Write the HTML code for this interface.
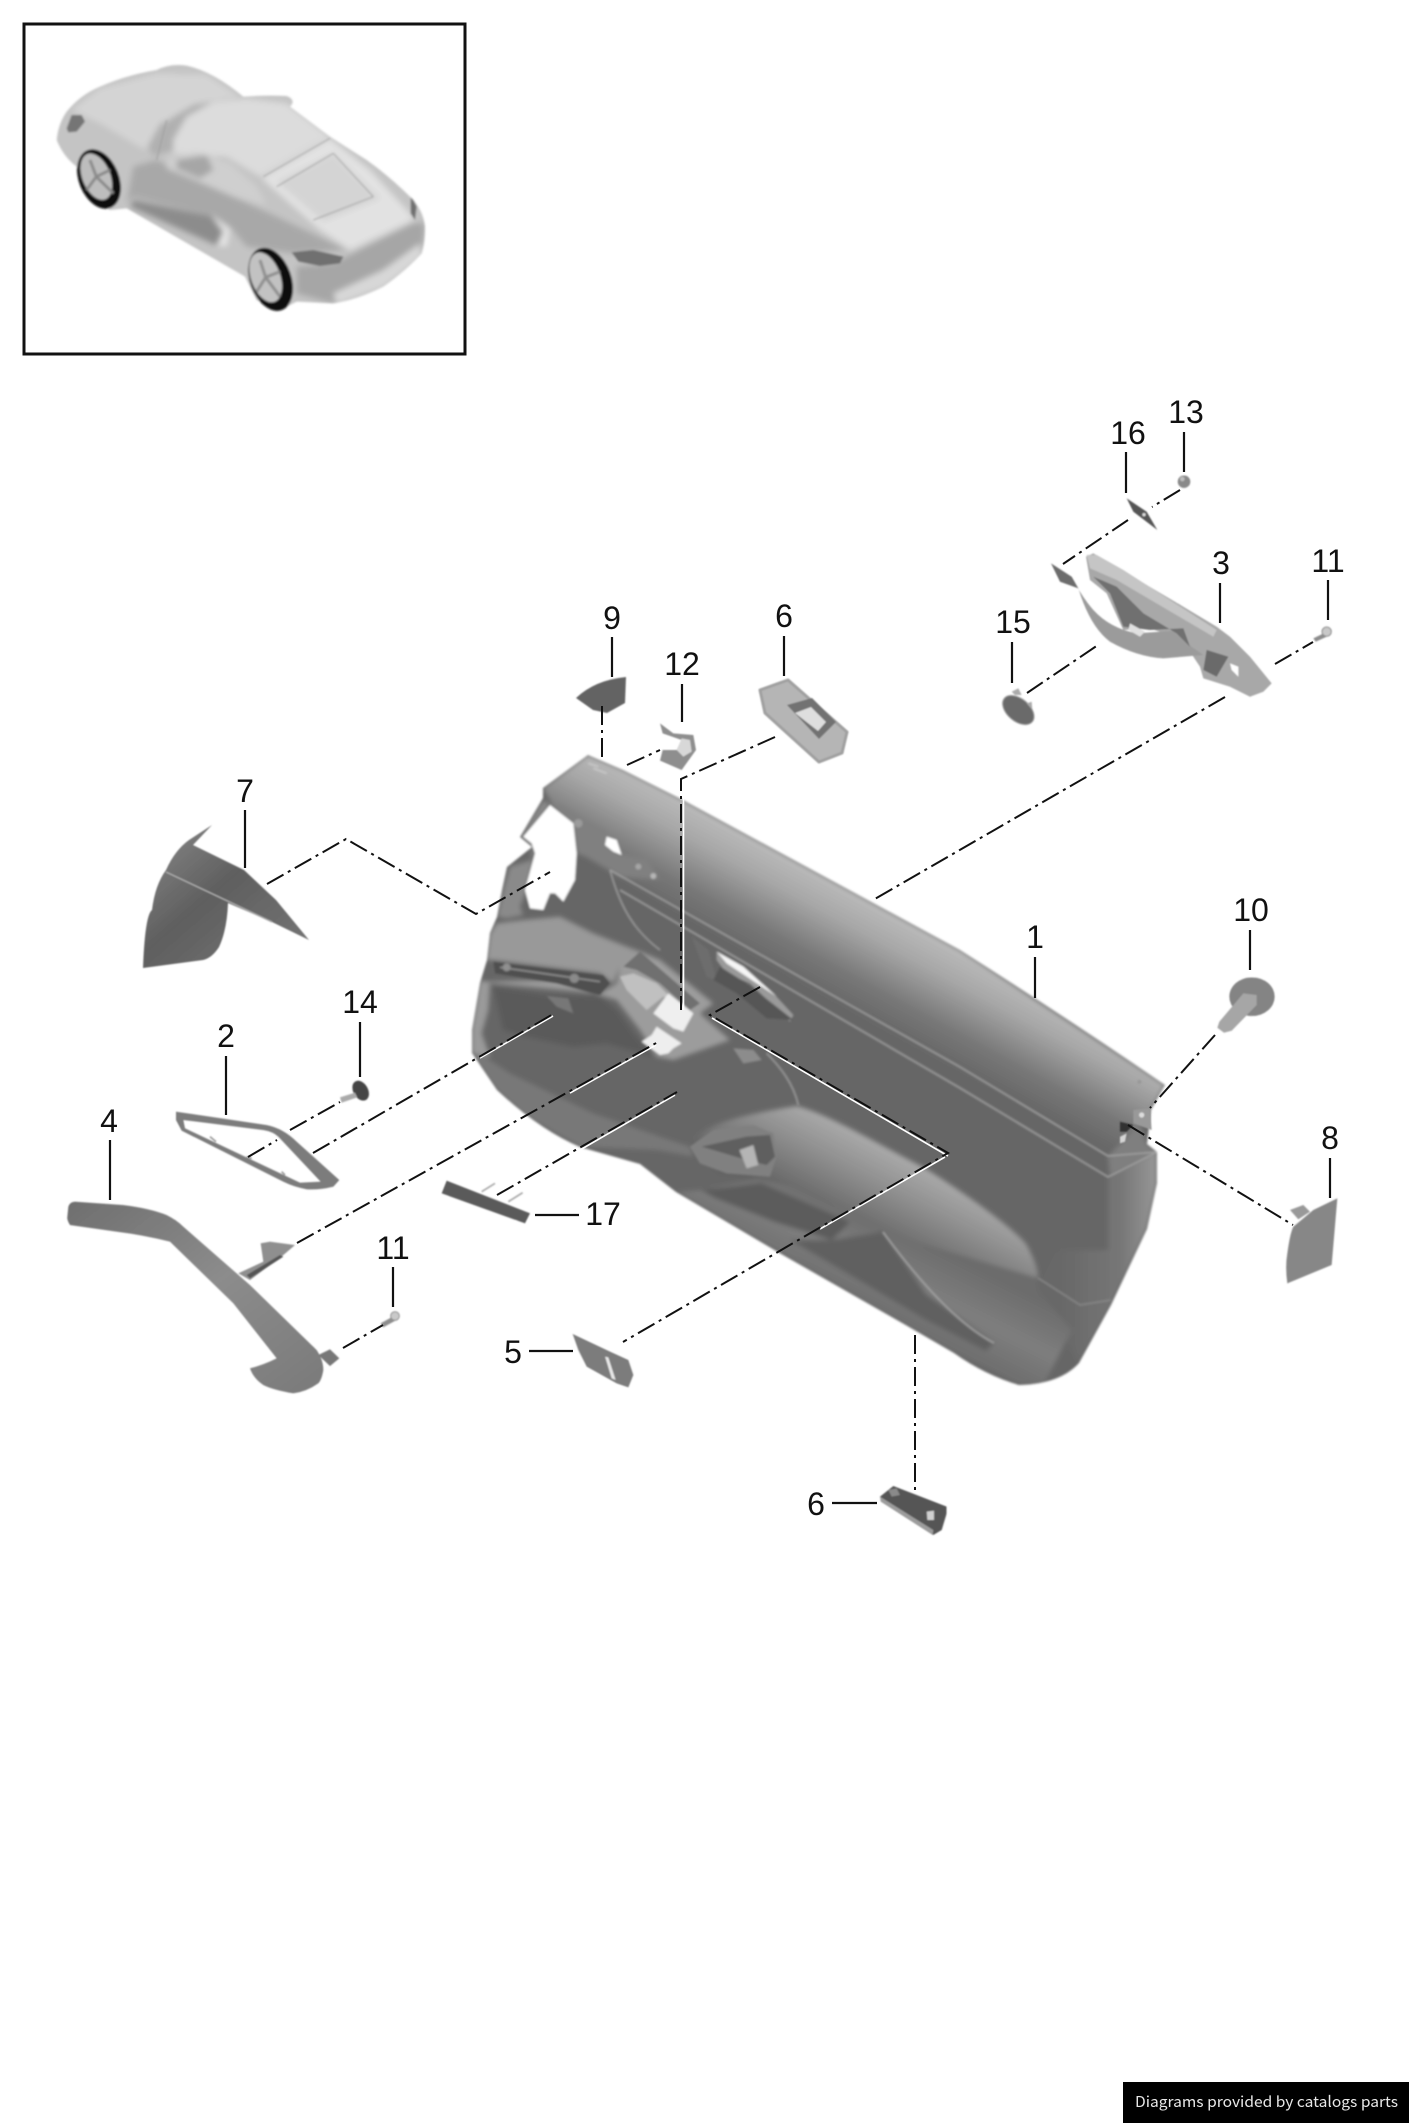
<!DOCTYPE html>
<html><head><meta charset="utf-8">
<style>
html,body{margin:0;padding:0;background:#fff;width:1409px;height:2123px;overflow:hidden}
svg{display:block}
.n{font:32px "Liberation Sans",sans-serif;fill:#111;text-anchor:middle}
.l{stroke:#111;stroke-width:2.2;fill:none}
.c{stroke:#111;stroke-width:2;fill:none;stroke-dasharray:19 5 3 5}
.h{stroke:#fff;stroke-width:1.6;fill:none}
</style></head><body>
<svg width="1409" height="2123" viewBox="0 0 1409 2123" xmlns="http://www.w3.org/2000/svg">
<defs>
<filter id="b1" x="-5%" y="-5%" width="110%" height="110%"><feGaussianBlur stdDeviation="0.8"/></filter>
<filter id="bd" x="-5%" y="-5%" width="110%" height="110%"><feGaussianBlur stdDeviation="2"/></filter>
<filter id="bs" x="-5%" y="-5%" width="110%" height="110%"><feGaussianBlur stdDeviation="1"/></filter>
<filter id="c1" x="-5%" y="-5%" width="110%" height="110%"><feGaussianBlur stdDeviation="3"/></filter>
<filter id="c2" x="-5%" y="-5%" width="110%" height="110%"><feGaussianBlur stdDeviation="9"/></filter>
<clipPath id="dclip"><path d="M588 755 623 770 683 800 960 950Q1070 1020 1165 1085L1151 1110 1147 1144 1157 1152 1157 1183 1147 1229 1111 1305 1079 1363Q1060 1384 1019 1385Q985 1375 954 1353L904 1324 783 1255 676 1192 640 1164 580 1147Q540 1130 497 1090L472 1053 472 1030 480 983 487 960 490 933 497 917 502 890 507 867 532 847 520 837 543 798 543 788Z"/></clipPath>
<clipPath id="cclip"><path d="M170 420Q175 370 200 335Q240 285 300 260Q380 225 470 210Q510 190 560 197Q640 215 730 290Q800 285 860 288Q890 300 870 320Q930 365 990 410Q1060 455 1100 480Q1170 530 1230 590Q1270 630 1275 680Q1275 730 1265 760Q1220 810 1150 860Q1070 900 1000 910L890 905 840 930 770 900 735 830 380 625 330 630 260 590 230 500Q190 470 170 420Z"/></clipPath>
<linearGradient id="band" gradientUnits="userSpaceOnUse" x1="900" y1="920" x2="850" y2="1012">
<stop offset="0" stop-color="#b9b9b9"/><stop offset=".28" stop-color="#a6a6a6"/><stop offset=".7" stop-color="#777"/><stop offset="1" stop-color="#666"/></linearGradient>
<linearGradient id="arm" gradientUnits="userSpaceOnUse" x1="880" y1="1130" x2="830" y2="1225">
<stop offset="0" stop-color="#b4b4b4"/><stop offset=".45" stop-color="#8f8f8f"/><stop offset="1" stop-color="#5d5d5d"/></linearGradient>
<linearGradient id="low" gradientUnits="userSpaceOnUse" x1="900" y1="1230" x2="860" y2="1310">
<stop offset="0" stop-color="#6c6c6c"/><stop offset=".5" stop-color="#7e7e7e"/><stop offset="1" stop-color="#6b6b6b"/></linearGradient>
<linearGradient id="end" gradientUnits="userSpaceOnUse" x1="1060" y1="1200" x2="1160" y2="1200">
<stop offset="0" stop-color="#686868"/><stop offset=".6" stop-color="#767676"/><stop offset="1" stop-color="#9a9a9a"/></linearGradient>
<linearGradient id="p4" x1="0" y1="0" x2="1" y2="1">
<stop offset="0" stop-color="#6f6f6f"/><stop offset=".5" stop-color="#8c8c8c"/><stop offset="1" stop-color="#7a7a7a"/></linearGradient>
<linearGradient id="p7" x1="0" y1="0" x2="1" y2="1">
<stop offset="0" stop-color="#8a8a8a"/><stop offset=".45" stop-color="#5f5f5f"/><stop offset="1" stop-color="#777"/></linearGradient>
</defs>

<rect width="1409" height="2123" fill="#fff"/>
<rect x="24" y="24" width="441" height="330" fill="#fff" stroke="#111" stroke-width="3"/>

<!-- car -->
<g transform="scale(.33333)">
<g filter="url(#c1)">
<g clip-path="url(#cclip)">
<rect x="150" y="180" width="1150" height="760" fill="#c4c4c4"/>
<g filter="url(#c2)">
<path fill="#d4d4d4" d="M215 330 300 265 470 220 620 225 720 290 590 310 480 370 435 450 300 370Z"/>
<path fill="#dcdcdc" d="M445 440 500 360 600 310 740 295 860 310 990 410 780 530 680 470 520 460 460 470Z"/>
<path fill="#b0b0b0" d="M445 440 480 375 580 315 640 305 560 350 520 420 520 455 460 470Z"/>
<path fill="#e2e2e2" d="M785 535 990 415 1110 510 1230 640 1240 660 1050 750 960 690Z"/>
<path fill="#d4d4d4" d="M830 545 1000 460 1140 595 970 665Z"/>
<path fill="#a8a8a8" d="M400 500 470 480 700 590 830 650 1040 750 880 760 740 740 690 680 640 650 400 590 380 610Z"/>
<path fill="#8c8c8c" d="M400 600 640 650 690 700 670 745 390 620Z"/>
<path fill="#cfcfcf" d="M500 475 590 455 690 490 770 560 800 615 700 590 620 555 500 505Z"/>
<path fill="#a6a6a6" d="M530 480 620 465 640 510 600 535 530 505Z"/>
<path fill="#e6e6e6" d="M630 640 690 690 680 740 650 740 670 695Z"/>
<path fill="#a6a6a6" d="M890 800 1000 790 1240 670 1275 670 1265 760 1150 860 1000 910 890 880Z"/>
<path fill="#d8d8d8" d="M1000 880 1150 810 1260 730 1265 770 1150 860 1010 910Z"/>
</g>
<path fill="#6f6f6f" d="M875 757 940 750 1030 770 1020 790 960 798 895 785Z"/>
<path fill="#6f6f6f" d="M1232 585 1250 620 1245 660 1232 640Z"/>
<path fill="#757575" d="M200 385 215 345 245 345 255 365 230 395 205 397Z"/>
</g>
<path d="M790 530 990 415M830 560 1000 460M940 660 1120 590M1000 460 1120 590M470 480 500 360" stroke="#9e9e9e" stroke-width="3" fill="none"/>
<ellipse cx="297" cy="537" rx="60" ry="93" transform="rotate(-22 297 537)" fill="#080808"/>
<ellipse cx="289" cy="530" rx="42" ry="73" transform="rotate(-22 289 530)" fill="#bdbdbd"/>
<path d="M289 530 270 480M289 530 330 510M289 530 340 580M289 530 260 570" stroke="#8a8a8a" stroke-width="9" fill="none"/>
<ellipse cx="812" cy="838" rx="62" ry="98" transform="rotate(-20 812 838)" fill="#080808"/>
<ellipse cx="797" cy="832" rx="44" ry="78" transform="rotate(-20 797 832)" fill="#c2c2c2"/>
<path d="M797 832 780 780M797 832 840 815M797 832 840 890M797 832 770 875" stroke="#8e8e8e" stroke-width="9" fill="none"/>
</g>
</g>

<!-- door -->
<g filter="url(#bs)">
<g clip-path="url(#dclip)">
<rect x="460" y="740" width="720" height="660" fill="#666"/>
<g filter="url(#bd)">
<path fill="url(#band)" d="M588 755 623 770 683 800 960 950 1165 1085 1151 1110 1140 1125 1108 1158 583 857 550 800 543 788Z"/>
<path fill="#7f7f7f" d="M1108 1156 1140 1125 1147 1144 1157 1152 1110 1177Z"/>
<path fill="url(#end)" d="M1108 1177 1157 1152 1157 1183 1147 1229 1111 1305 1079 1363 1040 1290 1060 1250 1108 1250Z"/>
<path fill="url(#arm)" d="M690 1144C700 1125 740 1115 797 1106C830 1115 880 1145 926 1169C960 1190 1010 1225 1026 1244C1035 1260 1038 1270 1038 1278L1000 1268 883 1232 790 1186 758 1179 720 1172Z"/>
<path fill="url(#low)" d="M701 1190 758 1179 790 1186 883 1232 1038 1278 1040 1292 1072 1330 1044 1384 1019 1385 954 1353 904 1324 783 1255 676 1192Z"/>
<path fill="#5b5b5b" d="M701 1190 761 1183 800 1200 850 1222 832 1240 775 1222 715 1198Z"/>
<path fill="#606060" d="M883 1232 926 1294 994 1343 986 1351 926 1320 850 1275 790 1240 832 1240Z"/>
<g transform="translate(460 720) scale(.33333)">
<path fill="#808080" d="M270 255 340 310 350 400 380 410 480 470 600 480 560 420 470 400 440 330 380 300 300 250Z"/>
<path fill="#8a8a8a" d="M250 240 180 350 215 385 215 420 150 440 130 510 112 590 140 595 190 585 180 560 200 510 225 400 215 370 190 350 270 255Z"/>
<path fill="#999" d="M90 640 110 610 190 600 300 590 400 640 500 680 540 695 480 740 460 790 420 760 100 720 80 720Z"/>
<path fill="#9c9c9c" d="M60 785 300 780 420 825 470 840 540 930 590 1010 640 1020 810 960 720 880 760 850 600 720 540 695 480 740 470 790 420 820 100 790Z"/>
<path fill="#5a5a5a" d="M100 800 260 825 420 830 470 870 520 940 580 1010 440 970 340 980 200 950 130 930Z"/>
<path fill="#787878" d="M60 1000 150 1060 400 1180 600 1250 690 1280 700 1310 590 1290 360 1280 200 1190 110 1110 40 1010Z"/>
<path fill="#9a9a9a" d="M60 780 35 930 35 1000 90 1010 65 940 85 870 90 790Z"/>
</g>
</g>
<g transform="translate(460 720) scale(.33333)">
<path fill="#4f4f4f" d="M100 725 430 765 450 790 420 825 290 790 105 760Z"/>
<path stroke="#aaa" stroke-width="3" fill="none" d="M120 742 420 785"/>
<circle cx="140" cy="742" r="12" fill="#909090"/><circle cx="343" cy="775" r="14" fill="#8a8a8a"/>
<path fill="#777" d="M260 828 325 835 340 880 290 860Z"/>
<path fill="#6f6f6f" d="M490 740 540 695 720 850 690 870 600 790 530 750Z"/>
<path fill="#c0c0c0" d="M520 760 590 790 660 860 610 830 560 870 500 810 480 770Z"/>
<path fill="#efefef" d="M580 880 625 820 700 880 670 935 640 925Z"/>
<path fill="#eee" d="M590 920 665 970 640 985 625 1000 600 1005 545 965 575 945Z"/>
<path fill="#6d6d6d" d="M695 650 745 690 770 780 870 790 850 810 790 790 740 770Z"/>
<path fill="#9a9a9a" d="M770 720 800 760 870 790 990 905 1000 885 940 820 850 740 770 695Z"/>
<path fill="#f6f6f6" d="M770 695 850 740 950 830 860 770 800 730Z"/>
<path fill="#575757" d="M780 740 860 790 1000 900 920 895 830 820 760 780Z"/>
<path fill="#808080" d="M690 1280 760 1230 880 1215 940 1240 950 1310 930 1370 800 1360 720 1330Z"/>
<path fill="#5e5e5e" d="M725 1280 860 1250 930 1245 945 1310 920 1335 860 1320 760 1290Z"/>
<path fill="#b5b5b5" d="M838 1290 880 1275 895 1335 860 1345Z"/>
<path fill="#8c8c8c" d="M820 985 880 990 905 1020 850 1030Z"/>
<path stroke="#a0a0a0" stroke-width="4" fill="none" d="M450 450C480 560 520 630 600 690M920 1000C960 1040 1000 1090 1015 1155"/>
<path stroke="#cfcfcf" stroke-width="4" fill="none" d="M385 130 415 140M400 145 440 160"/>
<circle cx="355" cy="310" r="13" fill="#9a9a9a"/><circle cx="535" cy="440" r="9" fill="#a5a5a5"/><circle cx="580" cy="468" r="9" fill="#b5b5b5"/>
</g>
<path d="M883 1232C905 1262 950 1320 994 1343" stroke="#a5a5a5" stroke-width="1.5" fill="none"/>
<path d="M1038 1278 1080 1305 1111 1300" stroke="#888" stroke-width="1.5" fill="none"/>
<path d="M610 870 960 1067 1108 1156 1157 1152" stroke="#a2a2a2" stroke-width="1.4" fill="none"/>
<path d="M620 890 960 1088 1108 1177 1157 1152" stroke="#a2a2a2" stroke-width="1.4" fill="none"/>
</g>
<g transform="translate(460 720) scale(.33333)">
<path fill="#fff" d="M270 255 340 310 350 400 345 480 310 545 285 520 270 520 250 570 210 565 195 510 225 400 215 370 190 350Z"/>
<path fill="#fff" d="M440 350 470 360 485 405 460 395 435 375Z"/>
</g>
</g>

<g filter="url(#b1)">
<!-- part 9, 12, 6 top -->
<path fill="#636363" d="M576 698Q595 680 626 677L625 703 607 713 593 710Z"/>
<g transform="translate(460 720) scale(.33333)">
<path fill="#8e8e8e" d="M600 10 640 40 700 45 708 90 665 150 600 122 608 90 650 90 665 60 608 40Z"/>
<path fill="#d8d8d8" d="M650 90 665 55 690 60 695 95 670 110Z"/>
</g>
<path fill="#b5b5b5" stroke="#a0a0a0" stroke-width="3" stroke-linejoin="round" d="M760 690 788 680 847 732 842 753 819 762 765 713Z"/>
<path fill="#727272" d="M787 705 812 698 836 722 819 739Z"/>
<path fill="#dedede" d="M795 713 811 707 826 722 818 731Z"/>

<!-- part 7 -->
<path fill="url(#p7)" d="M143 968Q145 915 152 910Q155 885 166 870Q175 850 189 840L212 825 193 845 244 870 276 900 309 940 272 922 228 903Q227 930 219 947Q212 958 203 960Z"/>
<path d="M166 872 272 922" stroke="#aaa" stroke-width="1.4" fill="none"/>

<!-- part 3, 13, 16, 15, 11 -->
<g transform="translate(950 380) scale(.33333)">
<circle cx="702" cy="305" r="19" fill="#8a8a8a"/>
<circle cx="697" cy="297" r="7" fill="#bdbdbd"/>
<path fill="#555" d="M530 355 590 395 622 450 550 395Z"/>
<circle cx="582" cy="404" r="5" fill="#ddd"/>
<path fill="#6c6c6c" d="M303 550 365 590 385 625 330 605Z"/>
<path fill="#a8a8a8" d="M408 530 430 520 480 550 700 680 800 740 840 770 900 830 965 910 940 935 900 950 840 920 760 895 750 860 730 830 700 780 600 745 520 750 470 640 420 600Z"/>
<path fill="#9b9b9b" d="M365 590Q395 650 430 690Q480 745 560 760L700 750 710 790 760 825 640 835Q560 830 480 785Q420 740 385 625Z"/>
<path fill="#6f6f6f" d="M430 590 480 640 520 740 600 750 700 745 720 800 680 760 580 700 500 620Z"/>
<path fill="#444" d="M500 570 700 700 660 680 470 575Z"/>
<path fill="#e0e0e0" d="M540 730 585 755 570 770 535 750Z"/>
<path fill="#6a6a6a" d="M770 810 835 830 800 890 760 870Z"/>
<path fill="#fff" d="M840 850 865 860 865 890 845 870Z"/>
<path fill="#c5c5c5" d="M410 525 440 525 520 570 800 750 790 770 500 600 420 565Z"/>
<path fill="#8c8c8c" d="M1090 775 1125 758 1130 770 1097 785Z"/>
<circle cx="1130" cy="755" r="14" fill="#c8c8c8" stroke="#8c8c8c" stroke-width="3"/>
<ellipse cx="205" cy="990" rx="55" ry="34" transform="rotate(40 205 990)" fill="#6a6a6a" stroke="#aaa" stroke-width="3"/>
<path fill="#aaa" d="M185 935 205 925 215 945 195 945ZM230 970 245 965 247 990Z"/>
</g>

<!-- part 10, 8 -->
<g transform="translate(1100 880) scale(.33333)">
<ellipse cx="456" cy="350" rx="68" ry="58" fill="#848484"/>
<path fill="#a6a6a6" d="M358 425 430 340 470 345 470 375 395 452 372 458 352 443Z"/>
<path fill="#878787" d="M712 955 695 1155 562 1210Q555 1160 562 1120Q570 1060 580 1040L640 990Z"/>
<path fill="#999" d="M570 990 610 975 630 995 595 1018Z"/>
<path fill="#d5d5d5" d="M60 770 80 760 75 785 60 790Z"/>
<path fill="#999" d="M100 690 150 685 155 750 100 730Z"/>
<circle cx="125" cy="705" r="8" fill="#ddd"/>
<path fill="#333" d="M60 725 100 735 80 755 60 755Z"/>
<circle cx="118" cy="606" r="6" fill="#999"/>
</g>

<!-- part 14, 2, 4, 11, 17 -->
<g transform="translate(50 960) scale(.33333)">
<ellipse cx="932" cy="392" rx="22" ry="32" transform="rotate(-30 932 392)" fill="#444"/>
<path fill="#aaa" d="M870 412 915 398 922 412 875 428Z"/>
<path fill="#7b7b7b" fill-rule="evenodd" d="M378 455 650 495Q700 505 740 545L868 660 850 680Q810 690 770 688Q730 680 700 665L395 512 378 480ZM400 480 640 510Q670 515 685 530L812 665 750 668 405 505Z"/>
<path stroke="#999" stroke-width="5" d="M480 530 498 545M590 590 605 595M695 635 705 645" fill="none"/>
<path fill="url(#p4)" d="M55 740Q60 725 75 725L220 735Q300 745 350 765Q380 780 400 800L600 975 800 1170Q820 1200 820 1230Q815 1260 805 1270Q770 1295 730 1300Q670 1290 640 1275Q610 1255 600 1225Q640 1215 680 1195L550 1030 360 845Q280 825 200 815L60 795Q50 780 52 770Z"/>
<path fill="#8f8f8f" d="M565 940 640 905 632 850 660 845 735 855 700 885 600 960Z"/>
<path fill="#555" d="M590 945 690 885 700 890 600 955Z"/>
<path fill="#777" d="M805 1185 840 1168 868 1195 840 1218Z"/>
<path fill="#8e8e8e" d="M992 1090 1028 1070 1036 1082 1000 1102Z"/>
<circle cx="1035" cy="1068" r="13" fill="#c9c9c9" stroke="#8f8f8f" stroke-width="3"/>
<path fill="#5a5a5a" d="M1175 700 1190 662 1440 760 1425 790Z"/>
<path stroke="#aaa" stroke-width="5" d="M1295 695 1335 670M1375 725 1418 698" fill="none"/>
</g>

<!-- part 5, 6 lower -->
<g transform="translate(480 1300) scale(.33333)">
<path fill="#7c7c7c" d="M278 102 390 155 445 180 460 225 445 262 410 250 320 200 295 150Z"/>
<path fill="#e8e8e8" d="M375 170 395 235 407 240 385 172Z"/>
<path fill="#555" d="M1200 590 1240 558 1400 620 1400 640 1385 690 1360 705 1205 605Z"/>
<path fill="#9c9c9c" d="M1200 590 1360 690 1358 705 1202 605Z"/>
<path fill="#8a8a8a" d="M1225 570 1250 565 1260 585 1235 590Z"/>
<path fill="#d0d0d0" d="M1340 635 1362 632 1362 660 1342 660Z"/>
</g>
</g>

<!-- connector halos -->
<path class="h" d="M683.5 790V1010"/>
<path class="h" d="M712 1018 948 1156M945 1157 820 1229"/>
<path class="h" d="M553 1016 480 1058M656 1045 570 1093M675 1095 580 1150"/>

<!-- connectors -->
<g class="c">
<path d="M1180 490 1152 507"/>
<path d="M1128 520 1063 564"/>
<path d="M1275 664 1313 642"/>
<path d="M1027 693 1098 645"/>
<path d="M1225 697 873 900"/>
<path d="M602 706V758"/>
<path d="M627 765 660 750"/>
<path d="M775 737 681 779V1010"/>
<path d="M267 884 346 839 476 914 550 872"/>
<path d="M760 987 710 1015 948 1153 623 1342"/>
<path d="M313 1153 555 1013"/>
<path d="M290 1130 340 1102"/>
<path d="M248 1157 277 1140"/>
<path d="M297 1243 658 1042"/>
<path d="M497 1195 677 1092"/>
<path d="M343 1348 383 1325"/>
<path d="M915 1335V1490"/>
<path d="M1215 1035 1150 1108"/>
<path d="M1128 1125 1293 1225"/>
</g>

<!-- leader lines -->
<g class="l">
<path d="M1184 432V472"/><path d="M1126 452V493"/><path d="M1220 583V623"/><path d="M1328 580V620"/><path d="M1012 642V683"/>
<path d="M360 1022V1077"/><path d="M226 1056V1115"/><path d="M110 1140V1200"/><path d="M393 1267V1307"/>
<path d="M529 1351H573"/><path d="M832 1503H877"/><path d="M535 1215H579"/>
<path d="M1250 930V970"/><path d="M1330 1158V1198"/><path d="M1035 957V998"/>
<path d="M612 637V677"/><path d="M784 636V676"/><path d="M682 684V722"/><path d="M245 810V868"/>
</g>

<!-- labels -->
<text class="n" x="1186" y="423">13</text>
<text class="n" x="1128" y="444">16</text>
<text class="n" x="1221" y="574">3</text>
<text class="n" x="1328" y="572">11</text>
<text class="n" x="1013" y="633">15</text>
<text class="n" x="612" y="629">9</text>
<text class="n" x="784" y="627">6</text>
<text class="n" x="682" y="675">12</text>
<text class="n" x="245" y="802">7</text>
<text class="n" x="1035" y="948">1</text>
<text class="n" x="1251" y="921">10</text>
<text class="n" x="1330" y="1149">8</text>
<text class="n" x="360" y="1013">14</text>
<text class="n" x="226" y="1047">2</text>
<text class="n" x="109" y="1132">4</text>
<text class="n" x="393" y="1259">11</text>
<text class="n" x="603" y="1225">17</text>
<text class="n" x="513" y="1363">5</text>
<text class="n" x="816" y="1515">6</text>

<rect x="1123" y="2082" width="286" height="41" fill="#000"/>
<text x="1135" y="2107" font-family="'Noto Sans CJK JP','Liberation Sans',sans-serif" font-size="15" fill="#e8e8e8" textLength="263" lengthAdjust="spacingAndGlyphs">Diagrams provided by catalogs parts</text>
</svg>
</body></html>
